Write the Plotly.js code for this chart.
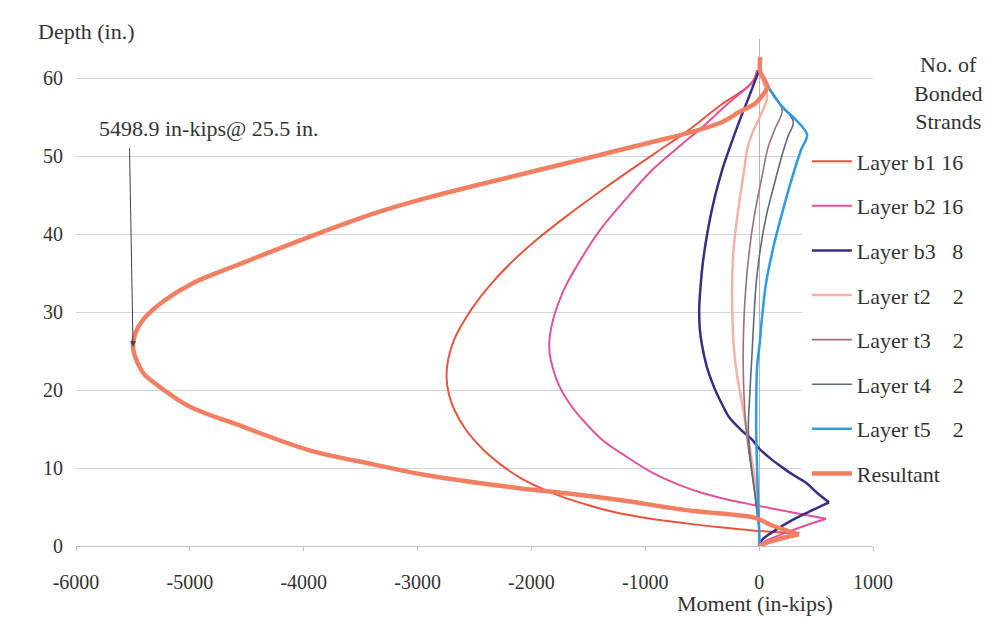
<!DOCTYPE html>
<html>
<head>
<meta charset="utf-8">
<script src="https://cdn.plot.ly/plotly-3.0.1.min.js"></script>
<style>html,body{margin:0;padding:0;background:#fff;}#chart{width:986px;height:618px;}</style>
</head>
<body>
<div id="chart"></div>
<script>
// ---- Data (moment in in-kips, depth in in.) ----
const b1Depth  = [61, 59.4, 56.5, 53.1, 50.5, 47.8, 45, 42.2, 39.2, 36.3, 33.5, 30.5, 28.4, 26.4, 24, 21.7, 19.5, 17.4, 15, 12.3, 10.5, 8.8, 7.5, 6.3, 5.2, 4.2, 3.5, 2.9, 2.4, 2.0, 1.8, 1.6, 1.1, 0.6, 0];
const b1Moment = [-20, -61, -340, -640, -900, -1170, -1440, -1700, -1960, -2180, -2360, -2520, -2610, -2680, -2730, -2746, -2725, -2675, -2580, -2420, -2275, -2105, -1930, -1728, -1490, -1228, -950, -640, -340, -61, 140, 330, 180, 70, 0];

const b2Depth  = [61, 59.5, 56.5, 53.7, 51, 48.2, 44.5, 40.9, 38.3, 35.8, 33.6, 31.5, 29, 26.4, 24.7, 23, 20.5, 18.3, 16, 13.6, 11.5, 9.4, 8, 6.8, 6, 5.3, 4.4, 3.5, 2.7, 1.8, 1.0, 0.5, 0];
const b2Moment = [-10, -60, -290, -500, -720, -939, -1170, -1377, -1500, -1605, -1690, -1754, -1810, -1842, -1840, -1816, -1755, -1667, -1540, -1377, -1170, -939, -730, -500, -290, -61, 260, 588, 420, 250, 110, 40, 0];

const b3Depth  = [61, 57, 54.6, 50.8, 48.2, 45, 42.2, 39, 36, 33.2, 30.5, 28, 26, 23, 20.5, 18.3, 16.5, 14.9, 13.6, 12.5, 11.2, 10.1, 9.1, 8.1, 6.8, 5.6, 4.4, 3.1, 2.0, 0.8, 0];
const b3Moment = [0, -105, -170, -265, -325, -385, -428, -468, -497, -515, -526, -522, -505, -460, -400, -330, -263, -160, -60, 0, 100, 202, 300, 412, 510, 614, 440, 263, 140, 26, 0];

const t2Depth  = [61, 59.5, 57.6, 55, 52.9, 50.8, 48.2, 45, 42.2, 38, 33.7, 29.5, 25.1, 21.5, 18.3, 14.9, 11, 7.6, 4.5, 2, 0];
const t2Moment = [0, 35, 70, 5, -61, -105, -131, -165, -192, -225, -237, -235, -220, -190, -150, -110, -65, -26, -8, 0, 0];

const t3Depth  = [61, 59.7, 57.8, 55.9, 53.5, 51.2, 47, 42.2, 38, 33.7, 29.5, 25.1, 20, 14.9, 11, 7, 4, 2, 0];
const t3Moment = [0, 44, 120, 202, 140, 80, 20, -44, -85, -114, -132, -140, -135, -114, -80, -40, -15, 0, 0];

const t4Depth  = [61, 59.7, 57, 54.4, 52.6, 50.8, 46.5, 42.2, 38, 33.7, 29.5, 25.1, 20, 14.9, 11, 7, 4, 2, 0];
const t4Moment = [0, 44, 170, 300, 255, 215, 135, 61, 10, -26, -45, -61, -80, -95, -75, -40, -15, 0, 0];

const t5Depth  = [61, 59.7, 58, 56.3, 54.6, 52.7, 50.8, 46.5, 42.2, 38, 33.7, 29.4, 26, 23, 19, 14.9, 11, 7, 4, 2, 0];
const t5Moment = [0, 44, 120, 202, 325, 421, 368, 275, 193, 120, 61, 26, 5, -18, -25, -26, -20, -12, -5, 0, 0];

const resDepth  = [62.7, 60.8, 59.8, 58.8, 57.9, 56.8, 55.6, 54.4, 52.9, 51.8, 49.7, 47.6, 44.5, 42.7, 39.6, 36.3, 33.7, 31.5, 29.0, 27.2, 25.5, 23.5, 22, 20.9, 19.3, 17.8, 15.3, 12.3, 10.4, 9.1, 7.4, 6.8, 5.9, 4.6, 3.7, 3.3, 2.6, 1.5, 1.0, 0.5, 0];
const resMoment = [10, 10, 45, 79, 35, -30, -180, -320, -640, -939, -1518, -2105, -2950, -3368, -3956, -4535, -4974, -5220, -5412, -5480, -5498.9, -5460, -5400, -5310, -5160, -4990, -4535, -3956, -3368, -2930, -2105, -1728, -1228, -640, -61, 20, 120, 350, 200, 80, 0];

const seriesNames = ["Layer b1 16", "Layer b2 16", "Layer b3\u00a0\u00a0\u00a08", "Layer t2\u00a0\u00a0\u00a0\u00a02", "Layer t3\u00a0\u00a0\u00a0\u00a02", "Layer t4\u00a0\u00a0\u00a0\u00a02", "Layer t5\u00a0\u00a0\u00a0\u00a02", "Resultant"];
const xTicks = [-6000, -5000, -4000, -3000, -2000, -1000, 0, 1000];
const yTicks = [0, 10, 20, 30, 40, 50, 60];
const peakMoment = -5498.9, peakDepth = 25.5;
const peakLabel = "5498.9 in-kips@ 25.5 in.";

// ---- Styles ----
const xs = [b1Moment, b2Moment, b3Moment, t2Moment, t3Moment, t4Moment, t5Moment, resMoment];
const ys = [b1Depth, b2Depth, b3Depth, t2Depth, t3Depth, t4Depth, t5Depth, resDepth];
const colors = ["#E8553F", "#E0529A", "#3B2C84", "#F5B2A4", "#9E6E7E", "#5C6A7A", "#2F9BE2", "#F27F62"];
const widths = [2, 2, 2.5, 2.5, 1.6, 1.6, 2.5, 4.5];

const font = "Liberation Serif, Times New Roman, serif";
const txt = "#333333";

// split each series at sharp corners (so the smooth spline keeps the corners sharp)
const PXX = 797 / 7000, PXY = 507 / 65;
function splitAtCorners(x, y) {
  const parts = [];
  let start = 0;
  for (let i = 1; i < x.length - 1; i++) {
    const a1 = Math.atan2((y[i - 1] - y[i]) * PXY, (x[i] - x[i - 1]) * PXX);
    const a2 = Math.atan2((y[i] - y[i + 1]) * PXY, (x[i + 1] - x[i]) * PXX);
    let d = Math.abs(a2 - a1);
    if (d > Math.PI) d = 2 * Math.PI - d;
    if (d > Math.PI / 3) { parts.push([start, i]); start = i; }
  }
  parts.push([start, x.length - 1]);
  return parts;
}

const traces = [];
xs.forEach((x, i) => {
  splitAtCorners(x, ys[i]).forEach((p, k) => {
    traces.push({
      type: "scatter", mode: "lines",
      x: x.slice(p[0], p[1] + 1), y: ys[i].slice(p[0], p[1] + 1),
      name: seriesNames[i], legendgroup: "g" + i, showlegend: k === 0,
      line: {color: colors[i], width: widths[i], shape: "spline", smoothing: 1},
      hoverinfo: "x+y+name"
    });
  });
});

const layout = {
  width: 986, height: 618,
  margin: {l: 76, r: 113, t: 39, b: 72},
  paper_bgcolor: "#ffffff", plot_bgcolor: "#ffffff",
  font: {family: font, size: 20, color: txt},
  showlegend: true,
  legend: {
    x: 0.917, xanchor: "left", y: 0.80, yanchor: "top",
    bgcolor: "rgba(0,0,0,0)", borderwidth: 0,
    font: {family: font, size: 22, color: txt},
    tracegroupgap: 13, itemwidth: 40
  },
  xaxis: {
    range: [-6000, 1000], tickvals: xTicks, ticktext: xTicks.map(String),
    showgrid: false, zeroline: true, zerolinecolor: "#B5B5B5", zerolinewidth: 1,
    showline: true, linecolor: "#C4C4C8", linewidth: 1,
    ticks: "outside", ticklen: 4, tickcolor: "#C4C4C8",
    tickfont: {family: font, size: 20, color: txt},
    ticklabelstandoff: 14
  },
  yaxis: {
    range: [0, 65], tickvals: yTicks, ticktext: yTicks.map(String),
    showgrid: true, gridcolor: "#D3D3E2", gridwidth: 1,
    zeroline: false, showline: false, ticks: "",
    tickfont: {family: font, size: 20, color: txt},
    ticklabelstandoff: 12
  },
  shapes: [
    // white legend panel hiding the gridlines behind the legend (drawn under the curves)
    {type: "rect", xref: "x", yref: "y", x0: 377, x1: 1000, y0: 8.5, y1: 51.6,
     fillcolor: "#ffffff", line: {width: 0}, layer: "between"}
  ],
  annotations: [
    {xref: "paper", yref: "paper", x: -0.05, y: 1.0, yshift: 8, xanchor: "left", yanchor: "middle",
     text: "Depth (in.)", showarrow: false, font: {family: font, size: 22, color: txt}},
    {xref: "x", yref: "paper", x: -35, y: 0, yshift: -57, xanchor: "center", yanchor: "middle",
     text: "Moment (in-kips)", showarrow: false, font: {family: font, size: 22, color: txt}},
    {xref: "x", yref: "y", x: -5816, y: 53.5, xanchor: "left", yanchor: "middle",
     text: peakLabel, showarrow: false, font: {family: font, size: 22, color: txt}},
    {xref: "x", yref: "y", x: peakMoment, y: peakDepth, axref: "x", ayref: "y", ax: -5530, ay: 51.2,
     text: "", showarrow: true, arrowhead: 2, arrowsize: 1.2, arrowwidth: 1, arrowcolor: "#444444"},
    {xref: "paper", yref: "paper", x: 1.094, y: 1.0, yshift: -54, xanchor: "center", yanchor: "middle",
     text: "No. of<br>Bonded<br>Strands", showarrow: false, align: "center",
     font: {family: font, size: 22, color: txt}}
  ]
};

Plotly.newPlot("chart", traces, layout, {displayModeBar: false, staticPlot: true});
</script>
</body>
</html>
